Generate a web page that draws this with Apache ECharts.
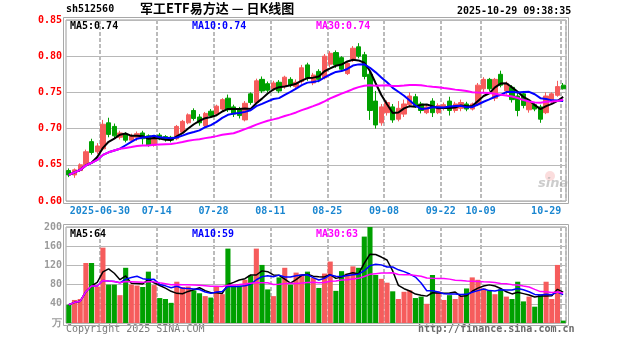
<!DOCTYPE html>
<html>
<head>
<meta charset="utf-8">
<script src="https://cdn.jsdelivr.net/npm/echarts@6/dist/echarts.min.js"></script>
<style>
html,body{margin:0;padding:0;background:#fff}
#chart{width:627px;height:342px}
</style>
</head>
<body>
<div id="chart"></div>
<script>
// 军工ETF易方达 (sh512560) daily K-line, 2025-06-20 .. 2025-10-29
const symbol = 'sh512560';
const titleText = '军工ETF易方达 — 日K线图';
const stampText = '2025-10-29 09:38:35';

const tradeDates = [
  '2025-06-20','2025-06-23','2025-06-24','2025-06-25','2025-06-26','2025-06-27','2025-06-30',
  '2025-07-01','2025-07-02','2025-07-03','2025-07-04','2025-07-07','2025-07-08','2025-07-09','2025-07-10','2025-07-11',
  '2025-07-14','2025-07-15','2025-07-16','2025-07-17','2025-07-18','2025-07-21','2025-07-22','2025-07-23','2025-07-24','2025-07-25',
  '2025-07-28','2025-07-29','2025-07-30','2025-07-31','2025-08-01',
  '2025-08-04','2025-08-05','2025-08-06','2025-08-07','2025-08-08','2025-08-11','2025-08-12','2025-08-13','2025-08-14','2025-08-15',
  '2025-08-18','2025-08-19','2025-08-20','2025-08-21','2025-08-22','2025-08-25','2025-08-26','2025-08-27','2025-08-28','2025-08-29',
  '2025-09-01','2025-09-02','2025-09-03','2025-09-04','2025-09-05','2025-09-08','2025-09-09','2025-09-10','2025-09-11','2025-09-12',
  '2025-09-15','2025-09-16','2025-09-17','2025-09-18','2025-09-19','2025-09-22','2025-09-23','2025-09-24','2025-09-25','2025-09-26',
  '2025-09-29','2025-09-30',
  '2025-10-09','2025-10-10','2025-10-13','2025-10-14','2025-10-15','2025-10-16','2025-10-17','2025-10-20','2025-10-21','2025-10-22',
  '2025-10-23','2025-10-24','2025-10-27','2025-10-28','2025-10-29'
];

const opens = [
  0.642,0.636,0.642,0.650,0.682,0.668,0.672,0.708,0.703,0.688,
  0.692,0.684,0.688,0.694,0.690,0.677,0.691,0.689,0.688,0.686,
  0.695,0.708,0.725,0.716,0.704,0.724,0.720,0.727,0.742,0.730,
  0.726,0.712,0.748,0.736,0.768,0.762,0.755,0.764,0.758,0.768,
  0.758,0.765,0.788,0.763,0.779,0.770,0.789,0.805,0.798,0.776,
  0.796,0.813,0.802,0.775,0.738,0.708,0.722,0.730,0.713,0.720,
  0.733,0.744,0.734,0.722,0.738,0.722,0.728,0.738,0.725,0.728,
  0.734,0.727,0.733,0.755,0.768,0.742,0.775,0.752,0.757,0.745,
  0.748,0.726,0.733,0.730,0.722,0.740,0.746,0.760
];
const closes = [
  0.636,0.643,0.650,0.668,0.667,0.676,0.706,0.692,0.690,0.694,
  0.684,0.690,0.693,0.686,0.677,0.689,0.686,0.685,0.684,0.703,
  0.710,0.719,0.714,0.708,0.721,0.718,0.731,0.740,0.726,0.720,
  0.718,0.735,0.736,0.766,0.752,0.753,0.763,0.752,0.771,0.760,
  0.764,0.784,0.770,0.774,0.768,0.800,0.804,0.788,0.782,0.790,
  0.811,0.800,0.772,0.725,0.705,0.730,0.736,0.712,0.728,0.734,
  0.745,0.732,0.725,0.730,0.722,0.732,0.733,0.725,0.734,0.736,
  0.727,0.734,0.760,0.768,0.755,0.768,0.760,0.762,0.740,0.725,
  0.732,0.738,0.727,0.713,0.745,0.748,0.758,0.755
];
const lows = [
  0.633,0.632,0.640,0.648,0.664,0.665,0.670,0.688,0.686,0.685,
  0.681,0.682,0.683,0.678,0.675,0.675,0.684,0.682,0.681,0.684,
  0.693,0.706,0.711,0.704,0.702,0.715,0.718,0.725,0.723,0.716,
  0.714,0.710,0.733,0.734,0.749,0.750,0.752,0.749,0.755,0.757,
  0.755,0.762,0.766,0.760,0.764,0.768,0.785,0.784,0.779,0.774,
  0.792,0.797,0.768,0.712,0.700,0.704,0.718,0.708,0.710,0.716,
  0.729,0.729,0.721,0.720,0.716,0.720,0.725,0.718,0.722,0.724,
  0.724,0.725,0.731,0.750,0.752,0.738,0.757,0.747,0.736,0.717,
  0.728,0.722,0.724,0.708,0.720,0.735,0.744,0.754
];
const highs = [
  0.645,0.645,0.652,0.671,0.686,0.680,0.712,0.715,0.707,0.697,
  0.695,0.693,0.696,0.697,0.692,0.691,0.694,0.691,0.690,0.705,
  0.712,0.721,0.728,0.720,0.723,0.727,0.733,0.742,0.747,0.733,
  0.730,0.738,0.750,0.769,0.772,0.765,0.766,0.767,0.773,0.771,
  0.768,0.788,0.791,0.777,0.782,0.803,0.807,0.808,0.800,0.793,
  0.814,0.818,0.806,0.780,0.752,0.734,0.739,0.734,0.738,0.740,
  0.750,0.748,0.737,0.733,0.742,0.735,0.736,0.744,0.737,0.740,
  0.737,0.736,0.763,0.771,0.770,0.770,0.780,0.765,0.760,0.750,
  0.752,0.741,0.736,0.733,0.750,0.750,0.766,0.763
];
// daily volume, unit: 万
const volumes = [
  38,48,50,125,125,76,157,80,80,58,
  115,80,78,75,107,79,52,50,42,86,
  75,76,68,62,56,53,77,60,155,78,
  78,90,99,155,121,70,56,95,115,80,
  105,102,107,94,73,103,128,67,108,103,
  118,115,180,200,100,92,84,66,50,65,
  68,52,55,40,100,66,48,58,50,56,
  72,95,90,72,68,60,70,55,50,86,
  45,55,34,60,86,50,121,5
];

// indices of the dates shown on the time axis
const dateTickIdx = [6,16,26,36,46,56,66,73,87];
const maPeriods = [5,10,30];
const maColors = ['#000000','#0000ff','#ff00ff'];

const UP = '#f65c5c', DOWN = '#00a000';
const MONO = '"DejaVu Sans Mono", "Liberation Mono", monospace';

function movingAvg(src, n) {
  const out = [];
  for (let i = 0; i < src.length; i++) {
    const from = Math.max(0, i - n + 1);
    let s = 0;
    for (let k = from; k <= i; k++) s += src[k];
    out.push(s / (i - from + 1));
  }
  return out;
}

const kData = opens.map((o, i) => [o, closes[i], lows[i], highs[i]]);
const volData = volumes.map((v, i) => ({
  value: v,
  itemStyle: { color: closes[i] >= opens[i] ? UP : DOWN }
}));
const priceMA = maPeriods.map(n => movingAvg(closes, n));
const volMA = maPeriods.map(n => movingAvg(volumes, n));

const G0 = { left: 66, top: 20, width: 500, height: 181 };
const G1 = { left: 66, top: 227, width: 500, height: 96 };

const vSplit = {
  show: true,
  interval: (i) => dateTickIdx.includes(i),
  lineStyle: { color: '#bbbbbb', width: 2, type: [4, 2] }
};

const chart = echarts.init(document.getElementById('chart'), null, { renderer: 'canvas' });

const series = [
  {
    type: 'candlestick', xAxisIndex: 0, yAxisIndex: 0, data: kData,
    barWidth: '84%',
    itemStyle: { color: UP, color0: DOWN, borderColor: UP, borderColor0: DOWN, borderWidth: 1 },
    z: 3
  },
  {
    type: 'bar', xAxisIndex: 1, yAxisIndex: 1, data: volData,
    barCategoryGap: '10%', z: 2
  }
];
maPeriods.forEach((n, k) => {
  series.push({
    type: 'line', xAxisIndex: 0, yAxisIndex: 0, data: priceMA[k],
    symbol: 'none', lineStyle: { color: maColors[k], width: 2 }, z: 4
  });
  series.push({
    type: 'line', xAxisIndex: 1, yAxisIndex: 1, data: volMA[k],
    symbol: 'none', lineStyle: { color: maColors[k], width: 1.5 }, z: 4
  });
});

function maText(label, val, color, x, y) {
  return { type: 'text', left: x, top: y, z: 10,
    style: { text: label + ':' + val, fill: color, font: 'bold 10px ' + MONO } };
}
const lastP = priceMA.map(a => a[a.length - 1].toFixed(2));
const lastV = volMA.map(a => Math.round(a[a.length - 1]));

chart.setOption({
  animation: false,
  backgroundColor: '#ffffff',
  grid: [
    Object.assign({ show: true, borderColor: '#9a9a9a', borderWidth: 1, backgroundColor: 'transparent' }, G0),
    Object.assign({ show: true, borderColor: '#9a9a9a', borderWidth: 1, backgroundColor: 'transparent' }, G1)
  ],
  xAxis: [
    {
      type: 'category', gridIndex: 0, data: tradeDates, boundaryGap: true,
      axisLine: { show: false }, axisTick: { show: false },
      axisLabel: {
        interval: (i) => dateTickIdx.includes(i),
        margin: 5,
        formatter: (v, i) => i === 6 ? '{n|' + v + '}' : (i === 87 ? '{e|' + v.slice(5) + '}' : '{n|' + v.slice(5) + '}'),
        rich: {
          n: { padding: [0, 6, 0, 0], fontFamily: MONO, fontWeight: 'bold', fontSize: 10, color: '#1a86d0' },
          e: { padding: [0, 34, 0, 0], fontFamily: MONO, fontWeight: 'bold', fontSize: 10, color: '#1a86d0' }
        }
      },
      splitLine: vSplit
    },
    {
      type: 'category', gridIndex: 1, data: tradeDates, boundaryGap: true,
      axisLine: { show: false }, axisTick: { show: false }, axisLabel: { show: false },
      splitLine: vSplit
    }
  ],
  yAxis: [
    {
      type: 'value', gridIndex: 0, min: 0.60, max: 0.85, interval: 0.05,
      axisLine: { show: false }, axisTick: { show: false },
      axisLabel: { margin: 4, color: '#ff0000', fontWeight: 'bold', fontSize: 10, fontFamily: MONO,
        formatter: v => v.toFixed(2) },
      splitLine: { lineStyle: { color: '#b8b8b8', width: 1, type: 'solid' } }
    },
    {
      type: 'value', gridIndex: 1, min: 0, max: 200, interval: 40,
      axisLine: { show: false }, axisTick: { show: false },
      axisLabel: { margin: 4, color: '#9a9a9a', fontWeight: 'bold', fontSize: 10, fontFamily: MONO,
        formatter: v => v === 0 ? '万' : String(v) },
      splitLine: { lineStyle: { color: '#b8b8b8', width: 1, type: 'solid' } }
    }
  ],
  series: series,
  graphic: [
    // outer frame lines of both panels
    { type: 'rect', z: 1, shape: { x: 63.5, y: 17.5, width: 505, height: 186 },
      style: { fill: 'none', stroke: '#a8a8a8', lineWidth: 1 } },
    { type: 'rect', z: 1, shape: { x: 63.5, y: 224.5, width: 505, height: 101 },
      style: { fill: 'none', stroke: '#a8a8a8', lineWidth: 1 } },
    { type: 'text', left: 66, top: 4, style: { text: symbol, fill: '#000', font: 'bold 10px ' + MONO } },
    { type: 'text', left: 140, top: 2, style: { text: titleText, fill: '#000',
        font: 'bold 13px "Noto Sans CJK SC", sans-serif' } },
    { type: 'text', left: 457, top: 6, style: { text: stampText, fill: '#000', font: 'bold 10px ' + MONO } },
    maText('MA5', lastP[0], maColors[0], 70, 21),
    maText('MA10', lastP[1], maColors[1], 192, 21),
    maText('MA30', lastP[2], maColors[2], 316, 21),
    maText('MA5', lastV[0], maColors[0], 70, 229),
    maText('MA10', lastV[1], maColors[1], 192, 229),
    maText('MA30', lastV[2], maColors[2], 316, 229),
    { type: 'text', left: 66, top: 324, style: { text: 'Copyright 2025 SINA.COM', fill: '#7a7a7a', font: '10px ' + MONO } },
    { type: 'text', left: 418, top: 324, style: { text: 'http://finance.sina.com.cn', fill: '#6a6a6a', font: 'bold 10px ' + MONO } },
    // sina watermark
    { type: 'circle', z: 2, shape: { cx: 550, cy: 176, r: 5 }, style: { fill: 'rgba(240,120,120,0.25)' } },
    { type: 'text', z: 2, left: 538, top: 177, style: { text: 'sina', fill: 'rgba(170,170,170,0.6)',
        font: 'italic bold 13px "DejaVu Sans", sans-serif' } }
  ]
});
</script>
</body>
</html>
